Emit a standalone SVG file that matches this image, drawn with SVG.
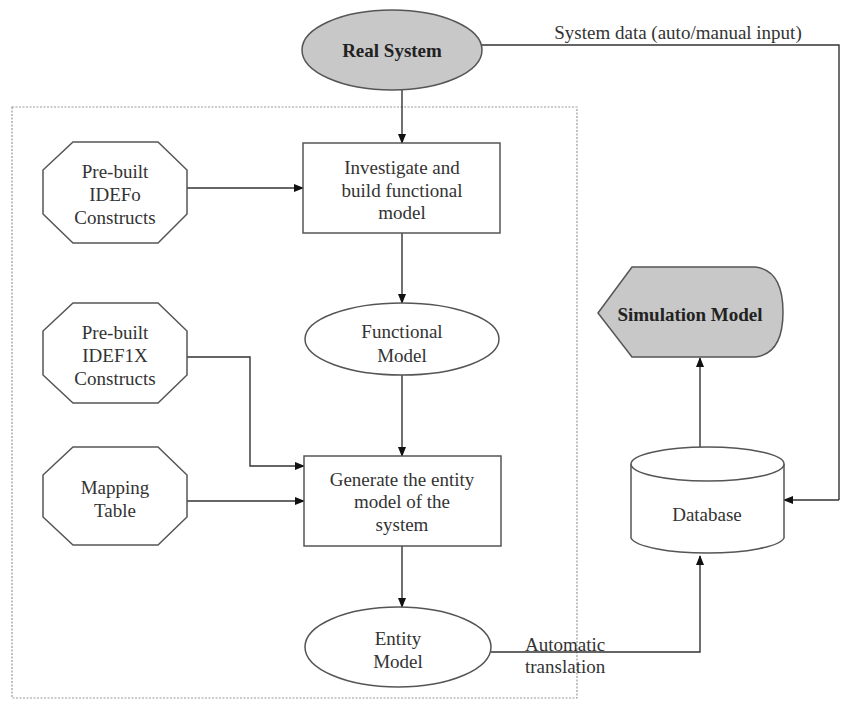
<svg xmlns="http://www.w3.org/2000/svg" width="842" height="704" viewBox="0 0 842 704" font-family="'Liberation Serif', 'DejaVu Serif', serif">
<defs>
<marker id="ah" markerWidth="10" markerHeight="10" refX="9" refY="4" orient="auto" markerUnits="userSpaceOnUse">
<path d="M0,0 L10,4 L0,8 Z" fill="#111"/>
</marker>
</defs>
<style>
text{font-family:'Liberation Serif','DejaVu Serif',serif;font-size:19px;fill:#333;text-anchor:middle}
.b{font-weight:bold;fill:#222}
.l{text-anchor:start}
.shape{fill:#fff;stroke:#555;stroke-width:1.5}
.gray{fill:#c8c8c8;stroke:#555;stroke-width:1.5}
.conn{fill:none;stroke:#333;stroke-width:1.4}
.arr{marker-end:url(#ah)}
.box{fill:none;stroke:#999;stroke-width:1.2;stroke-dasharray:2 1.5}
</style>
<rect width="842" height="704" fill="#fff"/>
<rect class="box" x="12" y="107" width="565" height="591"/>

<g id="connectors">
<path class="conn arr" d="M402,90 V143"/>
<path class="conn" d="M482,45 H839 V500"/>
<path class="conn arr" d="M839,500 H784"/>
<path class="conn arr" d="M187,188 H303"/>
<path class="conn arr" d="M402,233 V303"/>
<path class="conn arr" d="M402,375 V456"/>
<path class="conn arr" d="M187,357 H250 V466 H304"/>
<path class="conn arr" d="M187,501 H304"/>
<path class="conn arr" d="M402,546 V607"/>
<path class="conn arr" d="M491,652 H700 V556"/>
<path class="conn arr" d="M700,447 V358"/>
<text x="678" y="39">System data (auto/manual input)</text>
<text class="l" x="525" y="651">Automatic</text>
<text class="l" x="525" y="673">translation</text>
</g>

<g id="real-system">
<ellipse class="gray" cx="392" cy="50" rx="90" ry="40"/>
<text class="b" x="392" y="57">Real System</text>
</g>

<g id="idef0">
<polygon class="shape" points="73,142 158,142 187,170 187,214 158,243 73,243 43,214 43,170"/>
<text x="115" y="178">Pre-built</text>
<text x="115" y="201">IDEFo</text>
<text x="115" y="224">Constructs</text>
</g>

<g id="investigate">
<rect class="shape" x="303" y="143" width="197" height="90"/>
<text x="402" y="174">Investigate and</text>
<text x="402" y="197">build functional</text>
<text x="402" y="219">model</text>
</g>

<g id="functional-model">
<ellipse class="shape" cx="402" cy="339" rx="97" ry="36"/>
<text x="402" y="338">Functional</text>
<text x="402" y="362">Model</text>
</g>

<g id="idef1x">
<polygon class="shape" points="73,303 158,303 187,331 187,375 158,403 73,403 43,375 43,331"/>
<text x="115" y="339">Pre-built</text>
<text x="115" y="362">IDEF1X</text>
<text x="115" y="385">Constructs</text>
</g>

<g id="mapping-table">
<polygon class="shape" points="73,447 158,447 187,475 187,517 158,545 73,545 43,517 43,475"/>
<text x="115" y="494">Mapping</text>
<text x="115" y="517">Table</text>
</g>

<g id="generate">
<rect class="shape" x="304" y="456" width="197" height="90"/>
<text x="402" y="486">Generate the entity</text>
<text x="402" y="508">model of the</text>
<text x="402" y="531">system</text>
</g>

<g id="entity-model">
<ellipse class="shape" cx="398" cy="647" rx="93" ry="40"/>
<text x="398" y="645">Entity</text>
<text x="398" y="668">Model</text>
</g>

<g id="database">
<path class="shape" d="M631,464 V538 A77,17 0 0 0 784,538 V464"/>
<ellipse class="shape" cx="707.5" cy="464" rx="76.5" ry="17"/>
<text x="707" y="521">Database</text>
</g>

<g id="simulation-model">
<path class="gray" d="M598,313 L632,267 H755 Q783,270 783,312 Q783,354 755,357 H632 Z"/>
<text class="b" x="690" y="321">Simulation Model</text>
</g>
</svg>
